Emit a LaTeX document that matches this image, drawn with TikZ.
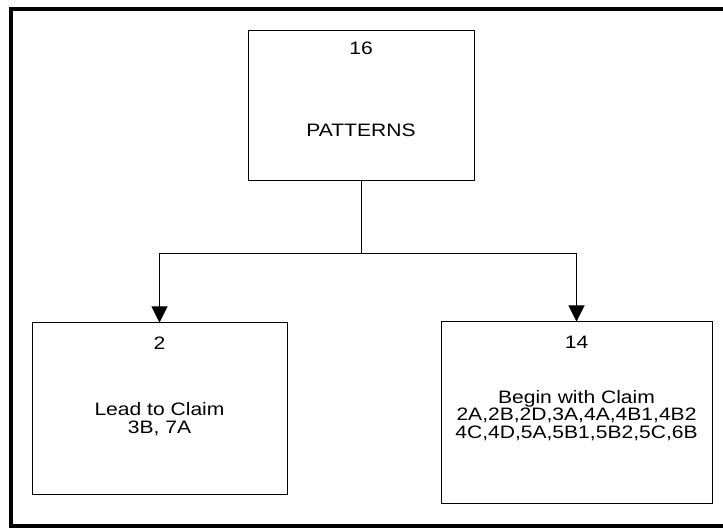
\documentclass[tikz,border=0pt]{standalone}
\usepackage{fontspec}
\setmainfont{Liberation Sans}[FakeStretch=1.17]
\usetikzlibrary{arrows.meta}
\begin{document}
\begin{tikzpicture}[x=1pt, y=-1pt,
  box/.style={draw=black, line width=1pt, minimum width=#1, inner sep=0pt},
  txt/.style={align=center, inner sep=0pt, font=\fontsize{18}{17.5}\selectfont},
  link/.style={line width=1pt},
  tip/.style={link, -{Triangle[width=16pt,length=16pt]}},
  frame/.style={line width=4.5pt, line join=miter}]
  \useasboundingbox (0,0) rectangle (723,529);

  % outer frame (right side runs off the page)
  \draw[frame] (730,9) -- (11,9) -- (11,526) -- (730,526);

  % boxes
  \node[box=226pt, minimum height=150pt] (top)   at (361,106)   {};
  \node[box=255pt, minimum height=171pt] (left)  at (159.5,408.5) {};
  \node[box=271pt, minimum height=181pt] (right) at (576.5,412.5) {};

  % box texts
  \node[txt] (topnum)   at (361,48)  {16};
  \node[txt] (toptext)  at (361,130) {PATTERNS};
  \node[txt] (leftnum)  at (159.5,343) {2};
  \node[txt] (lefttext) at (159.5,419) {Lead to Claim\\3B, 7A};
  \node[txt] (rightnum) at (576.5,342) {14};
  \node[txt] (righttext) at (576.5,415.5) {Begin with Claim\\2A,2B,2D,3A,4A,4B1,4B2\\4C,4D,5A,5B1,5B2,5C,6B};

  % connectors
  \coordinate (split) at (361,254);
  \draw[link] (top.south) -- (split);
  \draw[tip] (split) -| (left.north);
  \draw[tip] (split) -| (right.north);
\end{tikzpicture}
\end{document}
